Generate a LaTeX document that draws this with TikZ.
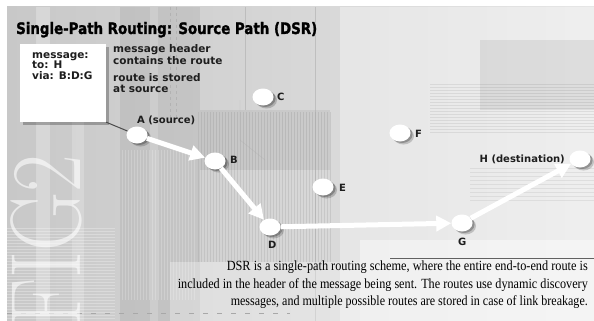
\documentclass[tikz,border=0pt]{standalone}
\usepackage{fontspec}
\usepackage{graphicx}
\usetikzlibrary{shapes.geometric,arrows.meta}
\newfontfamily\labfont{DejaVu Sans}
\newfontfamily\titlefont{DejaVu Sans Bold}[FakeBold=1.6]
\newfontfamily\capfont{Liberation Serif}
\definecolor{bgL}{HTML}{C8C8C8}
\definecolor{bgM}{HTML}{D3D3D3}
\definecolor{bgR}{HTML}{E6E6E6}
\definecolor{inkdark}{HTML}{1E1E1E}
\definecolor{stripe}{HTML}{A8A8A8}
\begin{document}
\begin{tikzpicture}[x=1pt,y=-1pt,
  site/.style={ellipse, fill=white, minimum width=21pt, minimum height=17pt, inner sep=0pt,
    preaction={fill=black, opacity=.18, transform canvas={shift={(3.5pt,-3pt)}}},
    preaction={fill=black, opacity=.25, transform canvas={shift={(2pt,-1.5pt)}}}},
  sitelabel/.style={anchor=base west, inner sep=0pt, text=inkdark,
    font=\labfont\bfseries\fontsize{10}{12}\selectfont},
  boxtext/.style={anchor=base west, inner sep=0pt, text=inkdark,
    font=\labfont\bfseries\fontsize{10.5}{12}\selectfont},
  captext/.style={anchor=base east, inner sep=0pt, text=black,
    font=\capfont\fontsize{14}{16}\selectfont},
  route/.style={draw=white, line width=5pt, -{Triangle[length=15pt,width=15pt]}},
  msgbox/.style={rectangle, fill=white, minimum width=86pt, minimum height=78pt, inner sep=0pt,
    preaction={fill=black, opacity=.25, transform canvas={shift={(3pt,-3pt)}}}},
  leader/.style={draw=inkdark!80, line width=1pt}]
\useasboundingbox (0,0) rectangle (594,321);
\fill[white] (0,0) rectangle (594,321);
% ---------- background texture ----------
\begin{scope}
\clip (7,7) rectangle (594,321);
\shade[left color=bgL, middle color=bgM, right color=bgR] (7,7) rectangle (594,321);
\fill[white, opacity=.35] (340,7) rectangle (594,321);
\fill[white, opacity=.25] (36,7) rectangle (50,321);
\fill[white, opacity=.2] (72,110) rectangle (84,321);
\fill[black, opacity=.06] (120,7) rectangle (200,321);
\fill[white, opacity=.18] (150,7) rectangle (158,321);
\foreach \y in {228,231,...,318} \draw[white, opacity=.28, line width=.8pt] (7,\y) -- (115,\y);
\foreach \x in {198,201,...,330} \draw[stripe, opacity=.35, line width=.8pt] (\x,112) -- (\x,262);
\foreach \x in {122,125,...,196} \draw[white, opacity=.2, line width=.8pt] (\x,150) -- (\x,300);
\fill[black, opacity=.06] (200,110) rectangle (330,170);
\draw[stripe, opacity=.6, dashed] (170,7) -- (170,120);
\draw[stripe, opacity=.6, dashed] (176,7) -- (176,120);
\draw[stripe, opacity=.5] (245,7) -- (245,110);
\draw[stripe, opacity=.5] (315,7) -- (315,321);
\draw[stripe, opacity=.4] (240,100) -- (240,140) -- (265,160) -- (265,200);
\foreach \y in {84,87,...,132} \draw[stripe, opacity=.25, line width=.7pt] (430,\y) -- (594,\y);
\foreach \y in {168,172,...,200} \draw[stripe, opacity=.22, line width=.7pt] (470,\y) -- (594,\y);
\fill[black, opacity=.07] (480,40) rectangle (594,110);
\fill[white, opacity=.4] (360,240) rectangle (594,321);
\fill[white, opacity=.3] (170,262) rectangle (360,321);
\draw[inkdark!70, line width=.8pt] (390,258) -- (594,258);
\draw[stripe, line width=1pt, dash pattern=on 5pt off 9pt] (7,313) -- (290,313);
% FIG2 watermark
\node[anchor=base west, rotate=90, inner sep=0pt, text=white, opacity=.6,
  font=\fontsize{100}{100}\selectfont] (fig) at (80,328) {\scalebox{0.82}[1]{FIG2}};
\end{scope}
% ---------- title ----------
\node[anchor=base west, inner sep=0pt, text=black] (title) at (16,34)
  {\resizebox{301pt}{12pt}{\titlefont Single-Path Routing: Source Path (DSR)}};
% ---------- message box ----------
\node[msgbox] (box) at (63,83) {};
\node[boxtext] (boxl1) at (32,59) {message:};
\node[boxtext] (boxl2) at (32,69) {to: H};
\node[boxtext] (boxl3) at (32,79.5) {via: B:D:G};
\node[boxtext] (note1) at (113,52.5) {message header};
\node[boxtext] (note2) at (113,64) {contains the route};
\node[boxtext] (note3) at (113,81.5) {route is stored};
\node[boxtext] (note4) at (113,92.5) {at source};
% ---------- sites ----------
\node[site] (A) at (137,135) {};
\node[site] (B) at (215,161) {};
\node[site] (C) at (263,97) {};
\node[site] (D) at (270,227) {};
\node[site] (E) at (323,187) {};
\node[site] (F) at (400,133) {};
\node[site] (G) at (462,223) {};
\node[site] (H) at (580,159) {};
\node[sitelabel] (Alab) at (137,123) {A (source)};
\node[sitelabel] (Blab) at (230,163.5) {B};
\node[sitelabel] (Clab) at (277,100.5) {C};
\node[sitelabel] (Dlab) at (268,248) {D};
\node[sitelabel] (Elab) at (339,191) {E};
\node[sitelabel] (Flab) at (415,137) {F};
\node[sitelabel] (Glab) at (458,245.5) {G};
\node[sitelabel, anchor=base east] (Hlab) at (565,162) {H (destination)};
% ---------- connectors ----------
\draw[leader] (box.south east) -- (A);
\draw[route] (A) -- (B);
\draw[route] (B) -- (D);
\draw[route] (D) -- (G);
\draw[route] (G) -- (H);
% ---------- caption ----------
\node[captext] (cap1) at (588,270.7)
  {\resizebox{361pt}{\height}{DSR is a single-path routing scheme, where the entire end-to-end route is}};
\node[captext] (cap2) at (588,288.3)
  {\resizebox{410pt}{\height}{included in the header of the message being sent. The routes use dynamic discovery}};
\node[captext] (cap3) at (588,305)
  {\resizebox{357pt}{\height}{messages, and multiple possible routes are stored in case of link breakage.}};
\end{tikzpicture}
\end{document}
